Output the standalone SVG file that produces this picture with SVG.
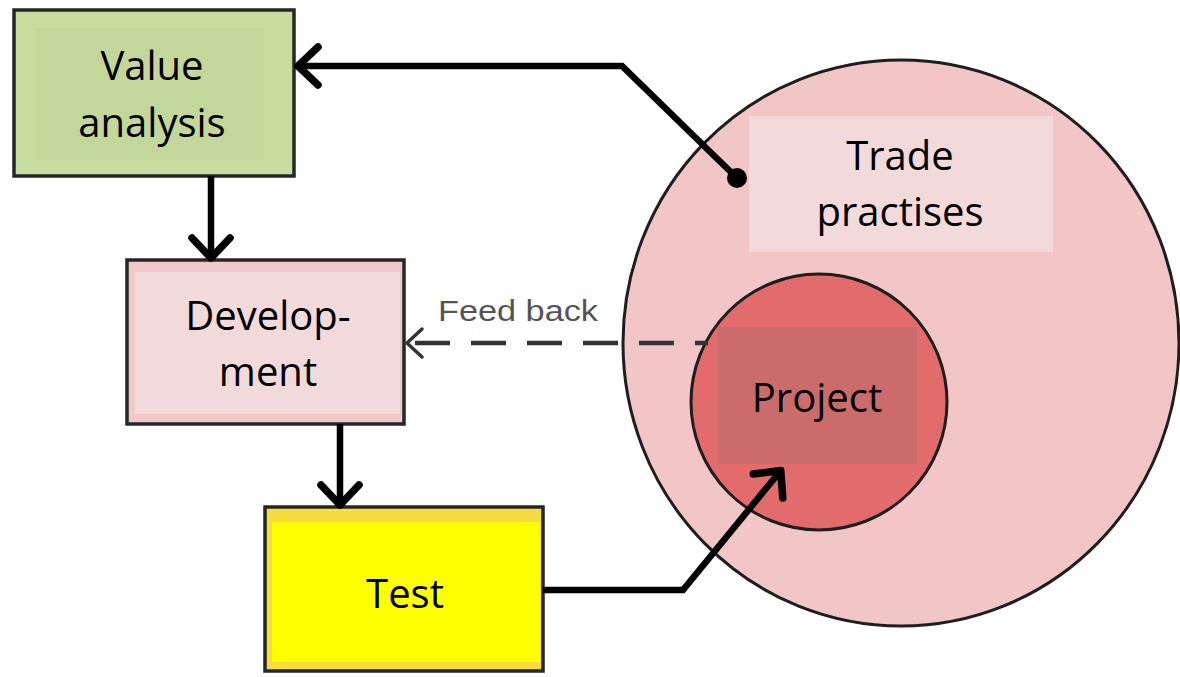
<svg xmlns="http://www.w3.org/2000/svg" width="1180" height="677" viewBox="0 0 1180 677">
<defs>
<style>
.lbl{font-family:"Open Sans","Liberation Sans",sans-serif;font-size:40px;fill:#000;text-anchor:middle}
.box{stroke:#262626;stroke-width:3.5}
.con{fill:none;stroke:#000;stroke-width:6.5;stroke-linejoin:miter}
.fb{font-family:"Liberation Sans",Arial,sans-serif;font-size:29px;fill:#555}
</style>
<marker id="arr" viewBox="-30 -28 36 56" refX="0" refY="0" markerWidth="36" markerHeight="56" markerUnits="userSpaceOnUse" orient="auto">
<path d="M-22,-19 L-2,0 L-22,19" fill="none" stroke="#000" stroke-width="7.5" stroke-linejoin="round" stroke-linecap="round"/>
</marker>
<marker id="arrd" viewBox="-24 -20 28 40" refX="0" refY="0" markerWidth="28" markerHeight="40" markerUnits="userSpaceOnUse" orient="auto">
<path d="M-16,-14 L-1,0 L-16,14" fill="none" stroke="#333" stroke-width="3.5" stroke-linejoin="round" stroke-linecap="round"/>
</marker>
</defs>
<rect width="1180" height="677" fill="#fff"/>

<g id="trade-practises">
<ellipse cx="901" cy="343" rx="278" ry="283" fill="#f2c6c6" stroke="#1e1e1e" stroke-width="3"/>
<rect x="749" y="116" width="304" height="136" fill="#f2dadb"/>
<text class="lbl" x="900" y="170">Trade</text>
<text class="lbl" x="900" y="226">practises</text>
</g>

<g id="project">
<circle cx="819" cy="402" r="128" fill="#e26b6b" stroke="#1e1e1e" stroke-width="3"/>
<rect x="718" y="327" width="199" height="137" fill="#cc6b6b"/>
<text class="lbl" x="817" y="412">Project</text>
</g>

<g id="value-analysis">
<rect class="box" x="14" y="10" width="280" height="166" fill="#c8dc9e"/>
<rect x="36" y="28" width="228" height="132" fill="#c3d79b"/>
<text class="lbl" x="152" y="80">Value</text>
<text class="lbl" x="152" y="137">analysis</text>
</g>

<g id="development">
<rect class="box" x="127" y="260" width="277" height="164" fill="#f0c8c8"/>
<rect x="135" y="272" width="265" height="142" fill="#f2dadb"/>
<text class="lbl" x="268" y="330">Develop-</text>
<text class="lbl" x="268" y="386">ment</text>
</g>

<g id="test">
<rect class="box" x="265" y="507" width="278" height="164" fill="#f7dc40"/>
<rect x="272" y="522" width="268" height="140" fill="#ffff00"/>
<text class="lbl" x="405" y="608">Test</text>
</g>

<g id="connectors">
<polyline class="con" points="737,178 622,66 296,66" marker-end="url(#arr)"/>
<circle cx="737" cy="178" r="10" fill="#000"/>
<line class="con" x1="211" y1="176" x2="211" y2="260" marker-end="url(#arr)"/>
<line class="con" x1="340" y1="424" x2="340" y2="507" marker-end="url(#arr)"/>
<polyline class="con" points="543,590 683,590 782,469" marker-end="url(#arr)"/>
<line x1="708" y1="343" x2="406" y2="343" fill="none" stroke="#333" stroke-width="4.5" stroke-dasharray="35,21" stroke-dashoffset="22" marker-end="url(#arrd)"/>
<text class="fb" x="438" y="321" textLength="160" lengthAdjust="spacingAndGlyphs">Feed back</text>
</g>
</svg>
